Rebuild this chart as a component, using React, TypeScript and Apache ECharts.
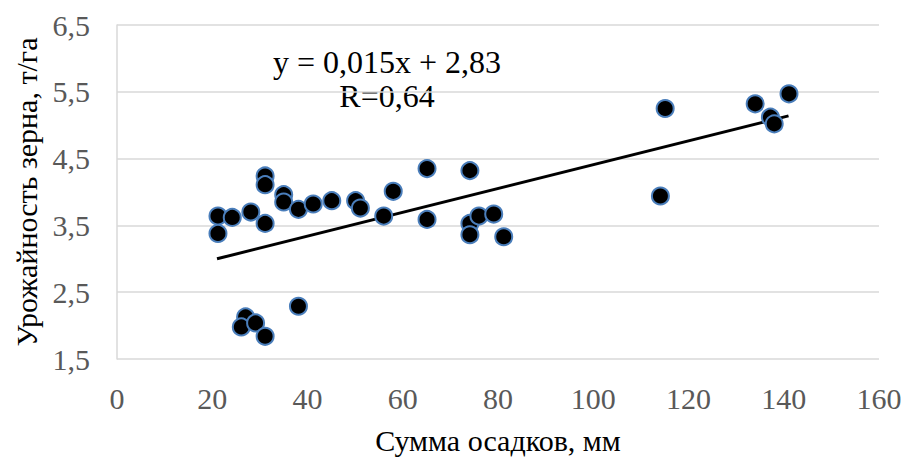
import React, { useEffect, useRef } from "react";
import * as echarts from "echarts";

const precipitation: number[] = [
  21.2, 21.2, 24.2, 28.1, 31.1, 31.1, 31.1, 35.0, 35.0, 38.1, 41.2, 45.1,
  50.1, 51.1, 58.0, 56.0, 65.1, 65.1, 74.1, 74.1, 74.1, 76.0, 79.1, 81.2,
  27.0, 26.1, 29.1, 31.1, 38.1, 114.1, 115.1, 134.0, 137.2, 138.0, 141.1,
];
const grainYield: number[] = [
  3.64, 3.38, 3.62, 3.70, 4.24, 4.11, 3.53, 3.96, 3.85, 3.74, 3.82, 3.87,
  3.87, 3.76, 4.01, 3.64, 4.35, 3.59, 4.32, 3.53, 3.36, 3.64, 3.67, 3.33,
  2.13, 1.98, 2.04, 1.84, 2.29, 3.94, 5.25, 5.32, 5.12, 5.02, 5.47,
];
const trendX: number[] = [21, 141];
const trendY: number[] = [3.0, 5.14];
const xTicks = { min: 0, max: 160, interval: 20 };
const yTicks = { min: 1.5, max: 6.5, interval: 1 };
const equationText = "y = 0,015x + 2,83";
const rText = "R=0,64";
const xTitle = "Сумма осадков, мм";
const yTitle = "Урожайность зерна, т/га";

const FONT = "'Liberation Serif', 'Times New Roman', serif";

export default function App() {
  const ref = useRef<HTMLDivElement>(null);
  useEffect(() => {
    document.body.style.margin = "0";
    const chart = echarts.init(ref.current!, null, { renderer: "svg" });
    const points = precipitation.map((x, i) => [x, grainYield[i]]);
    const trend = trendX.map((x, i) => [x, trendY[i]]);
    chart.setOption({
      animation: false,
      backgroundColor: "#ffffff",
      grid: { left: 117, right: 31, top: 25, bottom: 100 },
      xAxis: {
        type: "value",
        min: xTicks.min,
        max: xTicks.max,
        interval: xTicks.interval,
        name: xTitle,
        nameLocation: "middle",
        nameGap: 66,
        nameTextStyle: { fontFamily: FONT, fontSize: 30, color: "#000000" },
        axisLine: { show: false },
        axisTick: { show: false },
        splitLine: { show: false },
        axisLabel: {
          fontFamily: FONT,
          fontSize: 30,
          color: "#595959",
          margin: 24,
        },
      },
      yAxis: {
        type: "value",
        min: yTicks.min,
        max: yTicks.max,
        interval: yTicks.interval,
        name: yTitle,
        nameLocation: "middle",
        nameGap: 76,
        nameRotate: 90,
        nameTextStyle: { fontFamily: FONT, fontSize: 30, color: "#000000" },
        axisLine: { show: true, lineStyle: { color: "#d9d9d9", width: 1.5 } },
        axisTick: { show: false },
        splitLine: { show: true, lineStyle: { color: "#d9d9d9", width: 1.5 } },
        axisLabel: {
          fontFamily: FONT,
          fontSize: 30,
          color: "#595959",
          margin: 27,
          formatter: (v: number) => v.toFixed(1).replace(".", ","),
        },
      },
      series: [
        {
          type: "scatter",
          data: points,
          symbol: "circle",
          symbolSize: 17,
          itemStyle: { color: "#000000", borderColor: "#4a7ebb", borderWidth: 2, opacity: 1 },
          z: 3,
        },
        {
          type: "line",
          data: trend,
          showSymbol: false,
          lineStyle: { color: "#000000", width: 3 },
          z: 2,
        },
      ],
      graphic: [
        {
          type: "text",
          x: 387,
          y: 62,
          style: {
            text: equationText,
            fontFamily: FONT,
            fontSize: 32,
            fill: "#000000",
            align: "center",
            verticalAlign: "middle",
          },
        },
        {
          type: "text",
          x: 387,
          y: 96,
          style: {
            text: rText,
            fontFamily: FONT,
            fontSize: 32,
            fill: "#000000",
            align: "center",
            verticalAlign: "middle",
          },
        },
      ],
    });
    return () => chart.dispose();
  }, []);
  return <div ref={ref} style={{ width: 910, height: 460 }} />;
}
